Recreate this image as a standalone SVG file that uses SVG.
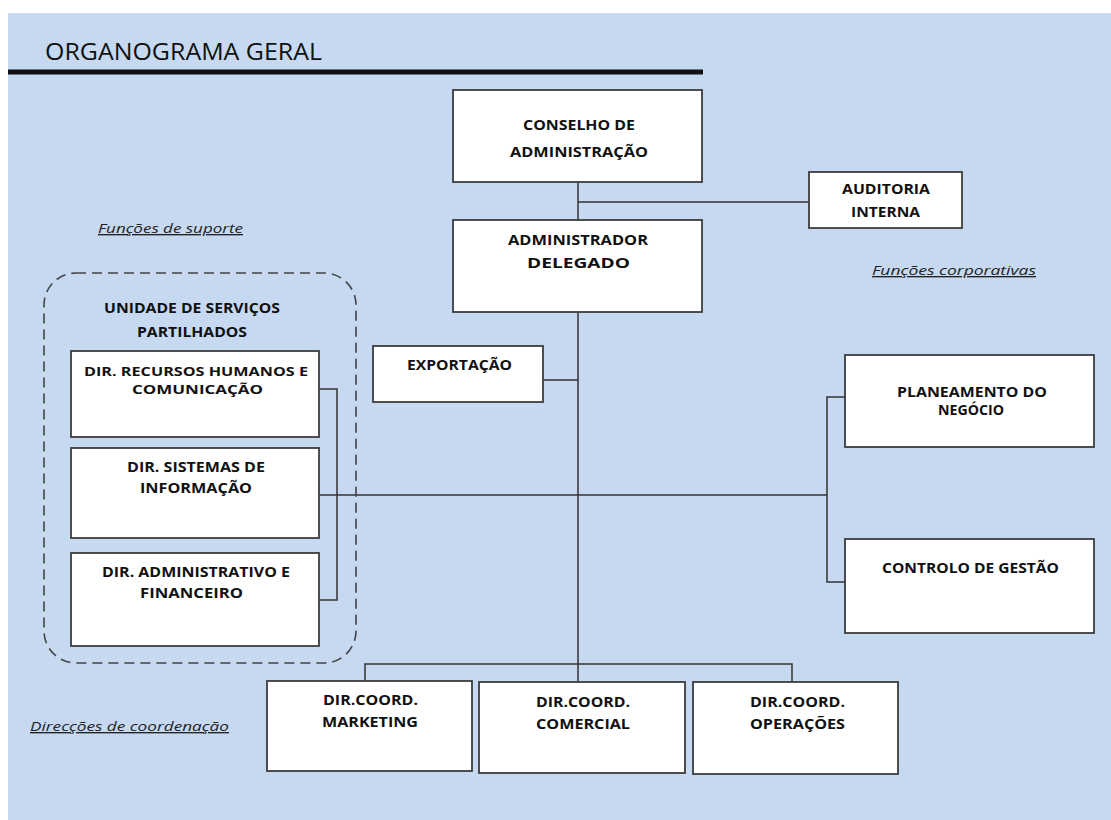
<svg xmlns="http://www.w3.org/2000/svg" width="1111" height="820" viewBox="0 0 1111 820">
<style>
.box{fill:#ffffff;stroke:#3c3c3c;stroke-width:1.8}
.t{font-family:"Open Sans","Noto Sans","Liberation Sans",sans-serif;font-weight:700;font-size:13.5px;fill:#111;text-anchor:start}
.s{font-size:12px}
.lbl{font-family:"Open Sans","Noto Sans","Liberation Sans",sans-serif;font-style:italic;font-size:13.5px;fill:#222;text-decoration:underline}
.conn{fill:none;stroke:#333;stroke-width:1.5}
</style>
<rect x="0" y="0" width="1111" height="820" fill="#ffffff"/>
<rect x="8" y="13" width="1103" height="807" fill="#c6d9f0"/>
<g id="title">
<text x="45" y="60" font-family="Open Sans,Noto Sans,sans-serif" font-size="24" fill="#111" textLength="277" lengthAdjust="spacingAndGlyphs">ORGANOGRAMA GERAL</text>
<rect x="8" y="69.5" width="695" height="5" fill="#111"/>
</g>
<g id="labels">
<text class="lbl" x="98" y="233" textLength="145" lengthAdjust="spacingAndGlyphs">Funções de suporte</text>
<text class="lbl" x="872" y="275" textLength="164" lengthAdjust="spacingAndGlyphs">Funções corporativas</text>
<text class="lbl" x="30" y="731" textLength="199" lengthAdjust="spacingAndGlyphs">Direcções de coordenação</text>
</g>
<g id="connectors">
<path class="conn" d="M578 182V220M578 202H809M578 312V664M543 380H578M365 681V664H792V682M578 664V682"/>
<path class="conn" d="M319 389H337V600H319M319 495H827M845 397H827V582H845"/>
</g>
<g id="usp">
<rect x="44" y="273" width="312" height="390" rx="32" ry="32" fill="none" stroke="#444" stroke-width="1.6" stroke-dasharray="10,6"/>
<text class="t" x="104" y="313" textLength="176" lengthAdjust="spacingAndGlyphs">UNIDADE DE SERVIÇOS</text>
<text class="t" x="137" y="337" textLength="110" lengthAdjust="spacingAndGlyphs">PARTILHADOS</text>
</g>
<g id="conselho">
<rect class="box" x="453" y="90" width="249" height="92"/>
<text class="t" x="523" y="130" textLength="112" lengthAdjust="spacingAndGlyphs">CONSELHO DE</text>
<text class="t" x="510" y="157" textLength="138" lengthAdjust="spacingAndGlyphs">ADMINISTRAÇÃO</text>
</g>
<g id="auditoria">
<rect class="box" x="809" y="172" width="153" height="56"/>
<text class="t" x="842" y="194" textLength="88" lengthAdjust="spacingAndGlyphs">AUDITORIA</text>
<text class="t" x="851" y="217" textLength="69" lengthAdjust="spacingAndGlyphs">INTERNA</text>
</g>
<g id="admin-delegado">
<rect class="box" x="453" y="220" width="249" height="92"/>
<text class="t" x="508" y="245" textLength="140" lengthAdjust="spacingAndGlyphs">ADMINISTRADOR</text>
<text class="t" x="527" y="268" textLength="103" lengthAdjust="spacingAndGlyphs">DELEGADO</text>
</g>
<g id="exportacao">
<rect class="box" x="373" y="346" width="170" height="56"/>
<text class="t" x="407" y="370" textLength="105" lengthAdjust="spacingAndGlyphs">EXPORTAÇÃO</text>
</g>
<g id="dir-rh">
<rect class="box" x="71" y="351" width="248" height="86"/>
<text class="t s" x="84" y="376" textLength="224" lengthAdjust="spacingAndGlyphs">DIR. RECURSOS HUMANOS E</text>
<text class="t s" x="132" y="394" textLength="131" lengthAdjust="spacingAndGlyphs">COMUNICAÇÃO</text>
</g>
<g id="dir-si">
<rect class="box" x="71" y="448" width="248" height="90"/>
<text class="t" x="127" y="472" textLength="138" lengthAdjust="spacingAndGlyphs">DIR. SISTEMAS DE</text>
<text class="t" x="140" y="493" textLength="112" lengthAdjust="spacingAndGlyphs">INFORMAÇÃO</text>
</g>
<g id="dir-af">
<rect class="box" x="71" y="553" width="248" height="93"/>
<text class="t" x="102" y="577" textLength="188" lengthAdjust="spacingAndGlyphs">DIR. ADMINISTRATIVO E</text>
<text class="t" x="140" y="598" textLength="103" lengthAdjust="spacingAndGlyphs">FINANCEIRO</text>
</g>
<g id="planeamento">
<rect class="box" x="845" y="355" width="249" height="92"/>
<text class="t" x="897" y="397" textLength="150" lengthAdjust="spacingAndGlyphs">PLANEAMENTO DO</text>
<text class="t" x="938" y="415" textLength="66" lengthAdjust="spacingAndGlyphs">NEGÓCIO</text>
</g>
<g id="controlo">
<rect class="box" x="845" y="539" width="249" height="94"/>
<text class="t" x="882" y="573" textLength="177" lengthAdjust="spacingAndGlyphs">CONTROLO DE GESTÃO</text>
</g>
<g id="marketing">
<rect class="box" x="267" y="681" width="205" height="90"/>
<text class="t" x="323" y="705" textLength="95" lengthAdjust="spacingAndGlyphs">DIR.COORD.</text>
<text class="t" x="322" y="727" textLength="96" lengthAdjust="spacingAndGlyphs">MARKETING</text>
</g>
<g id="comercial">
<rect class="box" x="479" y="682" width="206" height="91"/>
<text class="t" x="536" y="707" textLength="94" lengthAdjust="spacingAndGlyphs">DIR.COORD.</text>
<text class="t" x="536" y="729" textLength="94" lengthAdjust="spacingAndGlyphs">COMERCIAL</text>
</g>
<g id="operacoes">
<rect class="box" x="693" y="682" width="205" height="92"/>
<text class="t" x="750" y="707" textLength="95" lengthAdjust="spacingAndGlyphs">DIR.COORD.</text>
<text class="t" x="750" y="729" textLength="95" lengthAdjust="spacingAndGlyphs">OPERAÇÕES</text>
</g>
</svg>
